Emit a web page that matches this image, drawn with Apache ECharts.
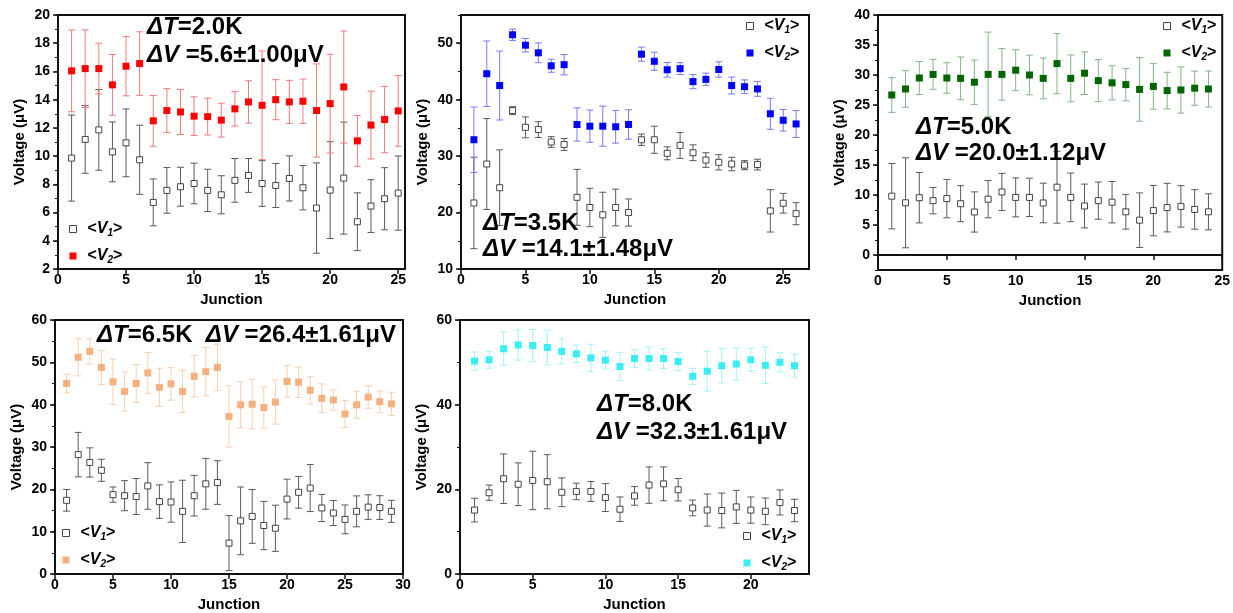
<!DOCTYPE html>
<html>
<head>
<meta charset="utf-8">
<script src="https://cdn.jsdelivr.net/npm/echarts@6/dist/echarts.min.js"></script>
<style>
html,body{margin:0;padding:0;background:#fff;}
#chart{width:1233px;height:613px;}
</style>
</head>
<body>
<div id="chart"></div>
<script>
// ---------------- DATA ----------------
const P1_JUNCTION = [1,2,3,4,5,6,7,8,9,10,11,12,13,14,15,16,17,18,19,20,21,22,23,24,25];
const P1_V1     = [9.86,11.18,11.86,10.3,10.94,9.74,6.72,7.57,7.83,8.06,7.57,7.26,8.28,8.63,8.06,7.92,8.42,7.76,6.32,7.59,8.44,5.35,6.46,6.98,7.38];
const P1_V1_ERR = [3.05,2.4,2.86,2.12,2.4,2.45,1.66,1.62,1.38,1.44,1.5,1.35,1.55,1.2,1.62,1.56,1.6,1.57,3.2,3.43,3.97,2.05,1.87,2.2,2.63];
const P1_V2     = [16.04,16.2,16.2,15.05,16.37,16.56,12.5,13.23,13.13,12.83,12.8,12.55,13.35,13.84,13.6,14.0,13.84,13.89,13.23,13.72,14.9,11.08,12.2,12.59,13.2];
const P1_V2_ERR = [2.9,2.75,1.8,2.15,2.1,2.25,1.8,1.55,1.6,1.37,1.3,1.2,1.22,1.5,3.85,1.42,1.53,1.57,3.3,3.5,3.97,1.8,2.4,2.35,2.5];

const P2_JUNCTION = [1,2,3,4,5,6,7,8,9,10,11,12,13,14,15,16,17,18,19,20,21,22,23,24,25,26];
const P2_V1     = [21.7,28.6,24.4,38.06,35.1,34.7,32.5,32.06,22.7,20.9,19.6,20.9,20.0,32.9,32.9,30.5,31.9,30.6,29.3,28.9,28.6,28.4,28.5,20.3,21.65,19.8];
const P2_V1_ERR = [8.1,8.05,6.7,0.7,1.85,1.4,0.95,1.05,4.95,3.4,4.0,3.25,2.4,1.0,2.4,1.15,2.3,1.4,1.3,1.35,1.2,0.8,0.95,3.75,1.75,1.95];
const P2_V2     = [32.9,44.6,42.5,51.5,49.65,48.3,46.0,46.2,35.6,35.3,35.3,35.2,35.6,48.06,46.8,45.3,45.5,43.2,43.6,45.35,42.5,42.3,41.9,37.5,36.35,35.7];
const P2_V2_ERR = [5.8,5.8,6.1,1.0,1.2,1.75,1.15,1.8,2.95,2.85,3.55,2.9,2.6,1.25,1.6,1.3,1.05,1.25,1.1,1.35,1.5,1.2,1.3,2.75,1.9,2.4];

const P3_JUNCTION = [1,2,3,4,5,6,7,8,9,10,11,12,13,14,15,16,17,18,19,20,21,22,23,24];
const P3_V1     = [9.8,8.7,9.55,9.06,9.4,8.55,7.17,9.3,10.5,9.6,9.6,8.67,11.3,9.6,8.17,9.06,8.8,7.2,5.8,7.4,7.9,8.1,7.6,7.2];
const P3_V1_ERR = [5.45,7.5,4.2,2.2,3.2,3.0,3.35,3.1,3.1,3.25,3.2,3.3,6.0,4.05,3.65,3.1,3.45,2.9,4.55,4.2,4.05,3.45,3.3,3.0];
const P3_V2     = [26.67,27.67,29.5,30.1,29.5,29.44,28.8,30.1,30.1,30.8,30.0,29.44,31.9,29.44,30.3,29.06,28.7,28.4,27.6,28.1,27.4,27.5,27.8,27.67];
const P3_V2_ERR = [2.9,3.05,2.75,2.5,2.55,3.55,3.7,7.05,4.3,3.4,3.3,3.4,5.0,3.9,3.55,3.5,2.85,2.7,5.3,3.8,3.05,3.85,2.85,3.0];

const P4_JUNCTION = [1,2,3,4,5,6,7,8,9,10,11,12,13,14,15,16,17,18,19,20,21,22,23,24,25,26,27,28,29];
const P4_V1     = [17.4,28.2,26.35,24.5,18.75,18.5,18.3,20.8,17.1,17.0,14.8,18.5,21.3,21.6,7.3,12.55,13.6,11.45,10.8,17.7,19.3,20.3,15.6,14.4,12.9,14.8,15.8,15.7,14.8];
const P4_V1_ERR = [2.55,5.25,3.45,2.6,1.8,3.55,4.25,5.5,3.95,4.75,7.35,4.8,6.0,5.15,6.5,8.0,6.35,5.7,5.45,4.7,3.75,5.55,3.2,2.95,3.4,3.65,2.9,2.8,2.6];
const P4_V2     = [45.0,51.2,52.6,48.8,45.4,43.1,45.0,47.5,44.1,44.9,43.1,46.7,47.8,48.8,37.2,39.96,40.1,39.3,40.6,45.5,45.3,43.4,41.5,41.1,37.8,39.96,41.8,40.7,40.2];
const P4_V2_ERR = [2.2,4.4,2.95,4.0,5.35,4.6,4.5,4.8,4.5,3.85,4.95,4.9,5.7,5.5,7.25,5.4,5.9,4.8,5.2,3.7,3.6,3.2,3.4,2.4,3.2,3.2,2.65,2.5,2.75];

const P5_JUNCTION = [1,2,3,4,5,6,7,8,9,10,11,12,13,14,15,16,17,18,19,20,21,22,23];
const P5_V1     = [15.1,19.2,22.5,21.2,22.1,21.8,19.3,19.5,19.5,18.05,15.3,18.45,21.0,21.3,19.9,15.6,15.1,15.0,15.85,15.1,14.8,16.9,15.0];
const P5_V1_ERR = [2.8,1.8,5.85,5.05,6.9,6.4,3.4,1.95,2.35,3.3,2.9,2.2,4.3,4.0,2.65,1.85,3.8,4.1,3.9,3.1,3.15,2.95,2.65];
const P5_V2     = [50.3,50.6,53.2,54.1,53.95,53.5,52.6,52.0,51.05,50.5,49.0,50.9,50.9,50.9,50.2,46.7,47.9,49.2,49.6,50.6,49.3,50.0,49.2];
const P5_V2_ERR = [2.15,2.0,3.9,3.55,3.8,4.1,2.95,2.05,3.2,2.1,3.35,2.15,2.7,2.35,2.15,1.9,4.7,4.05,3.8,2.7,4.3,2.3,2.7];

// tick labels
const X_TICKS_25 = [0,5,10,15,20,25];
const X_TICKS_30 = [0,5,10,15,20,25,30];
const X_TICKS_20 = [0,5,10,15,20];
const Y_TICKS_P1 = [2,4,6,8,10,12,14,16,18,20];
const Y_TICKS_P2 = [10,20,30,40,50];
const Y_TICKS_P3 = [0,5,10,15,20,25,30,35,40];
const Y_TICKS_P4 = [0,10,20,30,40,50,60];
const Y_TICKS_P5 = [0,20,40,60];

// annotation texts
const P1_NOTE = [['ΔT','=2.0K'],['ΔV',' =5.6±1.00μV']];
const P2_NOTE = [['ΔT','=3.5K'],['ΔV',' =14.1±1.48μV']];
const P3_NOTE = [['ΔT','=5.0K'],['ΔV',' =20.0±1.12μV']];
const P4_NOTE = [['ΔT','=6.5K  '],['ΔV',' =26.4±1.61μV']];
const P5_NOTE = [['ΔT','=8.0K'],['ΔV',' =32.3±1.61μV']];

const X_NAME = 'Junction';
const Y_NAME = 'Voltage (μV)';

// ---------------- LAYOUT / STYLE ----------------
const FONT = '"Liberation Sans", Arial, Helvetica, sans-serif';
const NOTE_SIZE = 24;
const panels = [
  {j:P1_JUNCTION,v1:P1_V1,e1:P1_V1_ERR,v2:P1_V2,e2:P1_V2_ERR,col:'#ff0000',ecol:'#f07a7a',
   grid:{left:58,top:15,width:347,height:254}, xMax:25.5, xTicks:X_TICKS_25,
   yMin:2,yMax:20,yTicks:Y_TICKS_P1,yMinor:1, legend:{left:69,top:221},
   notes:[{x:147,y:27,t:P1_NOTE[0]},{x:147,y:55,t:P1_NOTE[1]}]},
  {j:P2_JUNCTION,v1:P2_V1,e1:P2_V1_ERR,v2:P2_V2,e2:P2_V2_ERR,col:'#0000ff',ecol:'#7878ff',
   grid:{left:461,top:15,width:348,height:254}, xMax:27, xTicks:X_TICKS_25,
   yMin:10,yMax:55,yTicks:Y_TICKS_P2,yMinor:5, legend:{left:746,top:18},
   notes:[{x:483,y:223,t:P2_NOTE[0]},{x:483,y:249,t:P2_NOTE[1]}]},
  {j:P3_JUNCTION,v1:P3_V1,e1:P3_V1_ERR,v2:P3_V2,e2:P3_V2_ERR,col:'#006400',ecol:'#86b486',
   grid:{left:878,top:15,width:347,height:255}, xMax:25, xTicks:X_TICKS_25,
   yMin:-2.5,yMax:40,yTicks:Y_TICKS_P3,yMinor:2.5, legend:{left:1163,top:18},
   notes:[{x:916,y:127,t:P3_NOTE[0]},{x:916,y:153,t:P3_NOTE[1]}]},
  {j:P4_JUNCTION,v1:P4_V1,e1:P4_V1_ERR,v2:P4_V2,e2:P4_V2_ERR,col:'#f5b07e',ecol:'#f8d0b0',
   grid:{left:55,top:320,width:348,height:255}, xMax:30, xTicks:X_TICKS_30,
   yMin:0,yMax:60,yTicks:Y_TICKS_P4,yMinor:5, legend:{left:62,top:525},
   notes:[{x:97,y:335,t:P4_NOTE[0].concat(P4_NOTE[1])}]},
  {j:P5_JUNCTION,v1:P5_V1,e1:P5_V1_ERR,v2:P5_V2,e2:P5_V2_ERR,col:'#38eef4',ecol:'#a6f4f6',
   grid:{left:460,top:320,width:349,height:255}, xMax:24, xTicks:X_TICKS_20,
   yMin:0,yMax:60,yTicks:Y_TICKS_P5,yMinor:10, legend:{left:743,top:528},
   notes:[{x:597,y:404,t:P5_NOTE[0]},{x:597,y:432,t:P5_NOTE[1]}]}
];

const V1_STROKE = '#444';
const V1_ERR = '#5a5a5a';

function errRender(color){
  return function(params, api){
    const x = api.value(0), lo = api.value(1), hi = api.value(2);
    const a = api.coord([x, hi]), b = api.coord([x, lo]);
    const w = 3.5;
    const st = {stroke: color, lineWidth: 1};
    return {type:'group', children:[
      {type:'line', shape:{x1:a[0],y1:a[1],x2:b[0],y2:b[1]}, style:st},
      {type:'line', shape:{x1:a[0]-w,y1:a[1],x2:a[0]+w,y2:a[1]}, style:st},
      {type:'line', shape:{x1:b[0]-w,y1:b[1],x2:b[0]+w,y2:b[1]}, style:st}
    ]};
  };
}

const grids=[], xAxes=[], yAxes=[], series=[], legends=[], graphics=[];
const labelStyle = {color:'#000', fontFamily:FONT, fontWeight:'bold', fontSize:14};

panels.forEach((p,i)=>{
  grids.push(Object.assign({show:true, borderColor:'#111', borderWidth:2, backgroundColor:'transparent'}, p.grid));
  xAxes.push({type:'value', gridIndex:i, min:0, max:p.xMax,
    name:X_NAME, nameLocation:'middle', nameGap:23,
    nameTextStyle:{color:'#000', fontFamily:FONT, fontWeight:'bold', fontSize:15},
    axisLine:{lineStyle:{color:'#111', width:2}},
    axisTick:{length:5, lineStyle:{color:'#111', width:1.5}, customValues:p.xTicks},
    axisLabel:Object.assign({margin:4, customValues:p.xTicks}, labelStyle),
    splitLine:{show:false}});
  yAxes.push({type:'value', gridIndex:i, min:p.yMin, max:p.yMax, position:'left',
    name:Y_NAME, nameLocation:'middle', nameGap:31,
    nameTextStyle:{color:'#000', fontFamily:FONT, fontWeight:'bold', fontSize:15},
    axisLine:{lineStyle:{color:'#111', width:2}},
    axisTick:{length:5, lineStyle:{color:'#111', width:1.5}, customValues:p.yTicks},
    axisLabel:Object.assign({margin:8, customValues:p.yTicks}, labelStyle),
    splitLine:{show:false}});
  yAxes.push({type:'value', gridIndex:i, min:p.yMin, max:p.yMax, interval:p.yMinor, position:'left', offset:0,
    axisLine:{show:false}, axisLabel:{show:false}, splitLine:{show:false},
    axisTick:{length:3, lineStyle:{color:'#111', width:1}}});
  const yi = 2*i;
  const e1 = p.j.map((x,k)=>[x, p.v1[k]-p.e1[k], p.v1[k]+p.e1[k]]);
  const e2 = p.j.map((x,k)=>[x, p.v2[k]-p.e2[k], p.v2[k]+p.e2[k]]);
  series.push({type:'custom', name:'err1_'+i, xAxisIndex:i, yAxisIndex:yi, renderItem:errRender(V1_ERR), data:e1, encode:{x:0,y:[1,2]}, silent:true, z:2});
  series.push({type:'custom', name:'err2_'+i, xAxisIndex:i, yAxisIndex:yi, renderItem:errRender(p.ecol), data:e2, encode:{x:0,y:[1,2]}, silent:true, z:2});
  series.push({type:'scatter', name:'V1_'+i, xAxisIndex:i, yAxisIndex:yi, symbol:'rect', symbolSize:6,
    itemStyle:{color:'#fff', borderColor:V1_STROKE, borderWidth:1, opacity:1},
    data:p.j.map((x,k)=>[x,p.v1[k]]), z:3});
  series.push({type:'scatter', name:'V2_'+i, xAxisIndex:i, yAxisIndex:yi, symbol:'rect', symbolSize:7,
    itemStyle:{color:p.col, opacity:1},
    data:p.j.map((x,k)=>[x,p.v2[k]]), z:4});
  legends.push({orient:'vertical', left:p.legend.left, top:p.legend.top, padding:0, itemGap:10,
    itemWidth:7, itemHeight:7, selectedMode:false,
    data:[{name:'V1_'+i, icon:'rect', itemStyle:{color:'#fff', borderColor:V1_STROKE, borderWidth:1}},
          {name:'V2_'+i, icon:'rect', itemStyle:{color:p.col}}],
    formatter:function(name){
      const n = name.charAt(1);
      return '{a|<}{v|V}{s|'+n+'}{b|>}';
    },
    textStyle:{color:'#000', fontFamily:FONT, fontWeight:'bold', fontSize:16,
      rich:{
        a:{color:'#000', fontFamily:FONT, fontWeight:'bold', fontSize:16, padding:[0,0,0,6]},
        v:{color:'#000', fontFamily:FONT, fontWeight:'bold', fontStyle:'italic', fontSize:16},
        s:{color:'#000', fontFamily:FONT, fontWeight:'bold', fontStyle:'italic', fontSize:10, padding:[8,0,0,0]},
        b:{color:'#000', fontFamily:FONT, fontWeight:'bold', fontSize:16}
      }}});
  p.notes.forEach(nt=>{
    let txt = '';
    nt.t.forEach((s,k)=>{ txt += '{'+(k%2===0?'i':'n')+'|'+s+'}'; });
    graphics.push({type:'text', x:nt.x, y:nt.y, z:10,
      style:{text:txt, verticalAlign:'middle', align:'left',
        font:'bold '+NOTE_SIZE+'px '+FONT, fill:'#000',
        rich:{
          i:{fontFamily:FONT, fontWeight:'bold', fontStyle:'italic', fontSize:NOTE_SIZE, fill:'#000'},
          n:{fontFamily:FONT, fontWeight:'bold', fontSize:NOTE_SIZE, fill:'#000'}
        }}});
  });
});

const chart = echarts.init(document.getElementById('chart'), null, {renderer:'canvas'});
chart.setOption({
  animation:false,
  backgroundColor:'#fff',
  grid:grids, xAxis:xAxes, yAxis:yAxes, series:series, legend:legends, graphic:graphics
});
</script>
</body>
</html>
